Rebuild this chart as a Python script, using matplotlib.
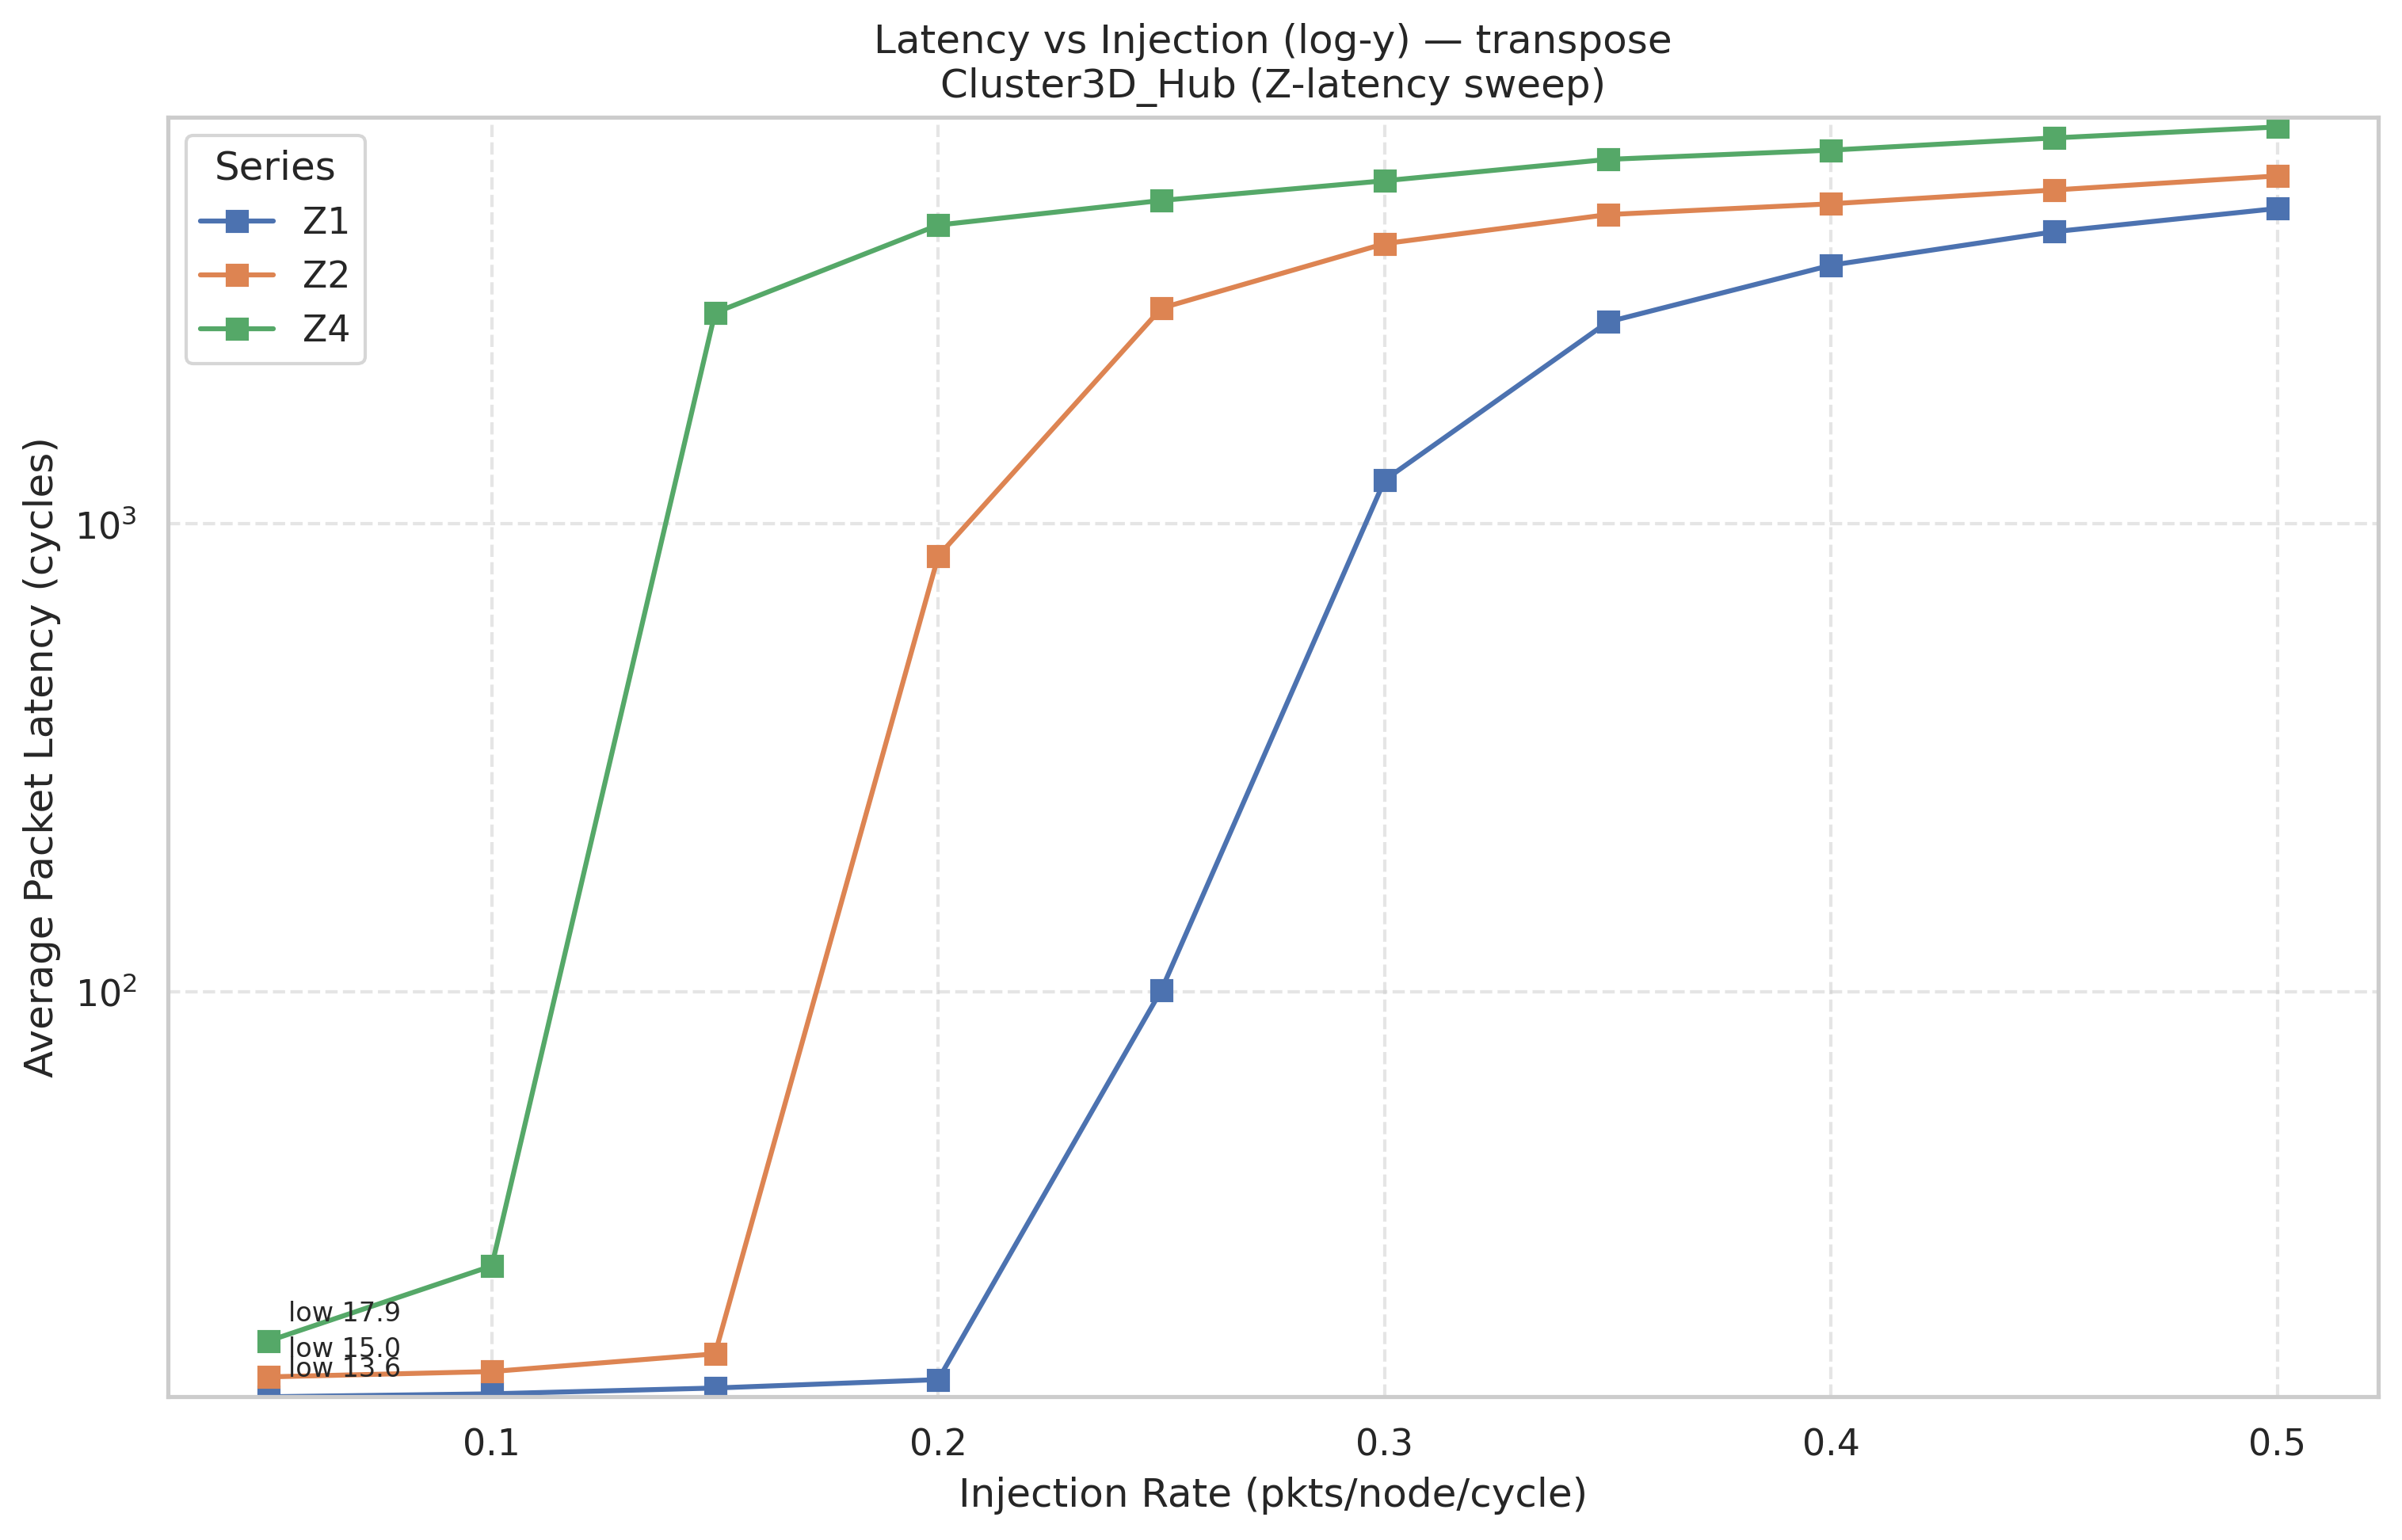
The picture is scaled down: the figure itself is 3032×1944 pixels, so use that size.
import matplotlib
matplotlib.use("Agg")
import matplotlib.pyplot as plt
import seaborn as sns

sns.set_theme(style="whitegrid")
plt.rcParams['font.family'] = ['DejaVu Sans']

rates = [0.05, 0.10, 0.15, 0.20, 0.25, 0.30, 0.35, 0.40, 0.45, 0.50]
z1 = [13.6, 13.8, 14.2, 14.8, 100.8, 1240, 2700, 3570, 4210, 4720]
z2 = [15.0, 15.4, 16.8, 853, 2890, 3970, 4580, 4830, 5170, 5540]
z4 = [17.9, 25.9, 2825, 4350, 4910, 5410, 6010, 6290, 6680, 7050]
series = [("Z1", z1), ("Z2", z2), ("Z4", z4)]

fig, ax = plt.subplots(figsize=(10.107, 6.48), dpi=300)
for name, vals in series:
    ax.plot(rates, vals, marker="s", label=name)
    ax.annotate(f"low {vals[0]:.1f}", (rates[0], vals[0]), xytext=(6, 6),
                textcoords="offset points", fontsize=8)

ax.set_yscale("log")
allv = z1 + z2 + z4
ax.set_ylim(min(allv), max(allv) * 1.05)
ax.grid(True, which="major", linestyle="--", alpha=0.5)
ax.set_xlabel("Injection Rate (pkts/node/cycle)")
ax.set_ylabel("Average Packet Latency (cycles)")
ax.set_title("Latency vs Injection (log-y) — transpose\nCluster3D_Hub (Z-latency sweep)")
ax.legend(title="Series", loc="upper left")
fig.subplots_adjust(left=0.070, right=0.990, top=0.924, bottom=0.093)
fig.savefig("out.png")
